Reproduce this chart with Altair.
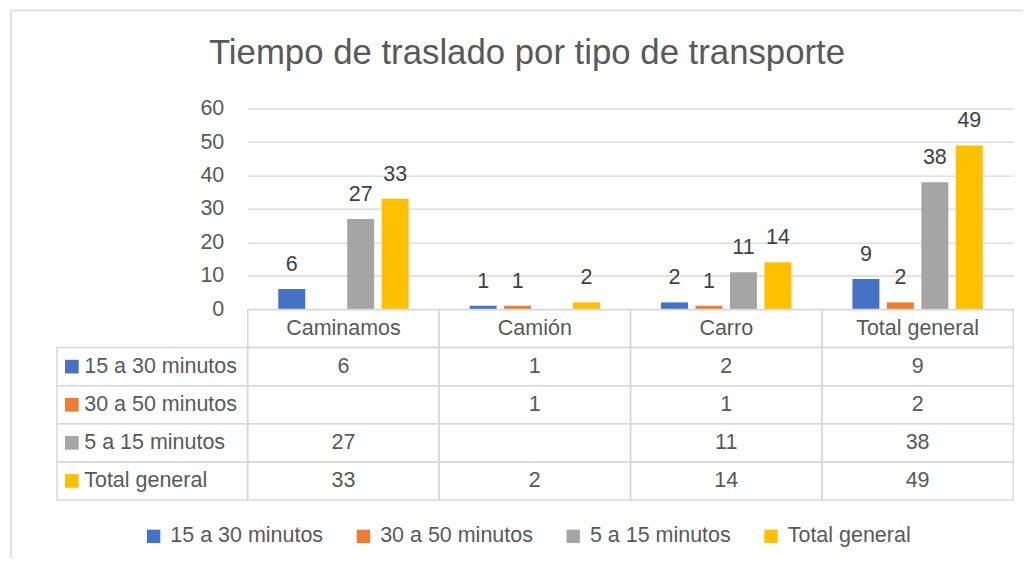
import altair as alt
import pandas as pd
import numpy as np

# ---------------- data ----------------
categories = ["Caminamos", "Camión", "Carro", "Total general"]
series = ["15 a 30 minutos", "30 a 50 minutos", "5 a 15 minutos", "Total general"]
v_15_30 = [6, 1, 2, 9]
v_30_50 = [None, 1, 1, 2]
v_5_15 = [27, None, 11, 38]
v_total = [33, 2, 14, 49]
colors = ["#4472C4", "#ED7D31", "#A5A5A5", "#FFC000"]
y_ticks = [0, 10, 20, 30, 40, 50, 60]
title_text = "Tiempo de traslado por tipo de transporte"

FONT = "Liberation Sans"
TXT = "#595959"
GRID = "#d9d9d9"
FS = 21.5

values_by_series = [v_15_30, v_30_50, v_5_15, v_total]
rows = []
for s, vals in zip(series, values_by_series):
    for c, v in zip(categories, vals):
        rows.append({
            "cat": c,
            "series": s,
            "value": np.nan if v is None else v,
            "text": "" if v is None else str(v),
        })
df = pd.DataFrame(rows)

header_key = "__header__"
row_domain = [header_key] + series
table_rows = [{"row": header_key, "cat": c, "text": c} for c in categories]
table_rows += [{"row": r["series"], "cat": r["cat"], "text": r["text"]} for r in rows]
table_df = pd.DataFrame(table_rows)

label_df = pd.DataFrame({"row": series, "col": ["lbl"] * len(series), "text": series})

W1, W2, H1, H2 = 190.7, 766.3, 200.6, 190.7

# ---------------- top-left: spacer with outer border ----------------
one = pd.DataFrame({"k": [0]})
border_left = alt.Chart(one).mark_rule(color=GRID, strokeWidth=1.5).encode(
    x=alt.value(-46), y=alt.value(-98.2), y2=alt.value(450)
)
border_top = alt.Chart(one).mark_rule(color=GRID, strokeWidth=1.5).encode(
    x=alt.value(-46), x2=alt.value(966), y=alt.value(-98.2)
)
spacer = alt.layer(border_left, border_top).properties(width=W1, height=H1)

# ---------------- top-right: bars ----------------
x_enc = alt.X("cat:N", scale=alt.Scale(domain=categories, paddingInner=0, paddingOuter=0), axis=None)
xo_enc = alt.XOffset("series:N", scale=alt.Scale(domain=series, paddingInner=0.217, paddingOuter=0.885))
y_axis = alt.Axis(
    values=y_ticks, tickCount=len(y_ticks), title=None, domain=False, ticks=False, labelPadding=24,
    labelFont=FONT, labelFontSize=FS, labelColor=TXT, labelOverlap=False,
    gridColor=GRID, gridWidth=1.3,
)
y_enc = alt.Y("value:Q", scale=alt.Scale(domain=[0, 60], nice=False), axis=y_axis)
base = alt.Chart(df).transform_filter("isValid(datum.value)")
bars = base.mark_bar().encode(
    x=x_enc, xOffset=xo_enc, y=y_enc,
    color=alt.Color(
        "series:N",
        scale=alt.Scale(domain=series, range=colors),
        legend=alt.Legend(
            title=None, orient="none", direction="horizontal",
            legendX=-105, legendY=417,
            symbolType="square", symbolSize=180, symbolStrokeWidth=0,
            labelFont=FONT, labelFontSize=FS, labelColor=TXT, labelOffset=6,
            columnPadding=29, labelLimit=400, padding=0,
        ),
    ),
)
bar_labels = base.mark_text(
    font=FONT, fontSize=21.5, color="#404040", baseline="alphabetic", dy=-18
).encode(x=x_enc, xOffset=xo_enc, y=y_enc, text="text:N")
bar_chart = alt.layer(bars, bar_labels).properties(width=W2, height=H1)

# ---------------- bottom-left: series labels column ----------------
ly = alt.Y("row:N", scale=alt.Scale(domain=row_domain, paddingInner=0, paddingOuter=0), axis=None)
lx = alt.X("col:N", scale=alt.Scale(paddingInner=0, paddingOuter=0), axis=None)
lab_base = alt.Chart(label_df)
lab_cells = lab_base.mark_rect(fillOpacity=0, stroke=GRID, strokeWidth=1.5).encode(x=lx, y=ly)
lab_keys = lab_base.mark_square(size=188, opacity=1).encode(
    x=alt.value(14.9), y=ly,
    color=alt.Color("row:N", scale=alt.Scale(domain=series, range=colors), legend=None),
)
lab_text = lab_base.mark_text(font=FONT, fontSize=FS, color=TXT, align="left").encode(
    x=alt.value(27.3), y=ly, text="text:N"
)
label_col = alt.layer(lab_cells, lab_keys, lab_text).properties(width=W1, height=H2)

# ---------------- bottom-right: data table ----------------
ty = alt.Y("row:N", scale=alt.Scale(domain=row_domain, paddingInner=0, paddingOuter=0), axis=None)
tx = alt.X("cat:N", scale=alt.Scale(domain=categories, paddingInner=0, paddingOuter=0), axis=None)
tb = alt.Chart(table_df)
t_cells = tb.mark_rect(fillOpacity=0, stroke=GRID, strokeWidth=1.5).encode(x=tx, y=ty)
t_text = tb.mark_text(font=FONT, fontSize=FS, color=TXT).encode(x=tx, y=ty, text="text:N")
table = alt.layer(t_cells, t_text).properties(width=W2, height=H2)

chart = (
    alt.concat(spacer, bar_chart, label_col, table, columns=2, spacing=0, bounds="flush", align="each")
    .resolve_scale(color="independent")
    .properties(
        title=alt.TitleParams(
            title_text, font=FONT, fontSize=34.8, fontWeight="normal", color=TXT,
            anchor="middle", frame="group", offset=0, dx=470.5, dy=62,
        ),
        padding={"left": 2, "top": 1.5, "right": 0, "bottom": 0},
        background="white",
    )
    .configure_view(stroke=None)
)

chart.save("out.html", embed_options={"renderer": "svg", "actions": False})
